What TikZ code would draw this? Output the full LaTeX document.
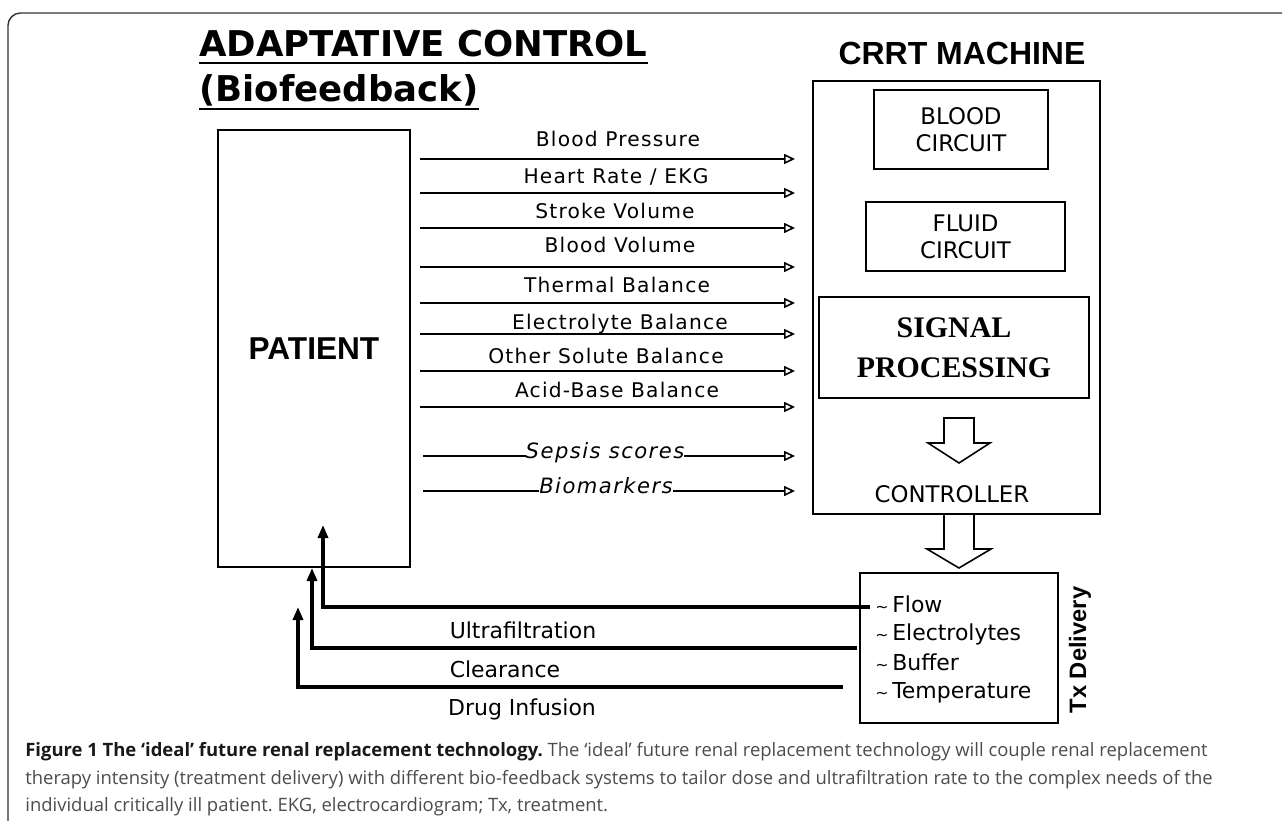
\documentclass[tikz,border=0pt]{standalone}
\usepackage{fontspec}
\setmainfont{DejaVu Sans}
\newfontfamily\lblfont[LetterSpace=6]{DejaVu Sans}
\newfontfamily\itlfont[LetterSpace=7]{DejaVu Sans}
\newfontfamily\headfont{DejaVu Sans}
\newfontfamily\boxfont{Liberation Sans}
\newfontfamily\sigfont{Liberation Serif}
\newfontfamily\capfont{Open Sans}
\usetikzlibrary{arrows.meta}
\frenchspacing

\begin{document}
\begin{tikzpicture}[x=0.02cm,y=-0.02cm]
\tikzset{
  box/.style={draw, line width=1pt, align=center, inner sep=0pt},
  txt/.style={font=\fontsize{13}{15.3}\selectfont},
  lbl/.style={anchor=base, inner sep=0pt, font=\lblfont\fontsize{11.5}{13}\selectfont},
  itl/.style={anchor=base, inner sep=0pt, fill=white, font=\itlfont\itshape\fontsize{12}{14}\selectfont},
  item/.style={anchor=base west, inner sep=0pt, font=\fontsize{12.5}{15}\selectfont},
  fbl/.style={anchor=base, inner sep=0pt, font=\fontsize{12.5}{15}\selectfont},
  sig/.style={line width=0.9pt, -{Triangle[open, length=0.22cm, width=0.2cm]}},
  fb/.style={line width=1.8pt, -{Triangle[length=0.26cm, width=0.2cm]}},
  blk/.style={draw, line width=0.9pt, fill=white},
  captext/.style={anchor=base west, inner sep=0pt, font=\capfont\fontsize{10.5}{15.6}\selectfont}
}
\useasboundingbox (0,0) rectangle (1282,821);
\draw[line width=0.8pt, black!80, rounded corners=0.25cm] (8,821) -- (8,13) -- (1282,13);

\node[anchor=base west, inner sep=0pt, font=\headfont\bfseries\fontsize{20.2}{24}\selectfont] (ttl1) at (199,57) {ADAPTATIVE CONTROL};
\node[anchor=base west, inner sep=0pt, font=\headfont\bfseries\fontsize{20.2}{24}\selectfont] (ttl2) at (199,102) {(Biofeedback)};
\draw[line width=1.1pt] ([yshift=-3.4pt]ttl1.base west) -- ([yshift=-3.4pt]ttl1.base east);
\draw[line width=1.1pt] ([yshift=-4pt]ttl2.base west) -- ([yshift=-4pt]ttl2.base east);
\node[anchor=base, inner sep=0pt, font=\boxfont\bfseries\fontsize{18.2}{22}\selectfont] (crrtttl) at (962,65) {CRRT MACHINE};

\node[box, minimum width=3.84cm, minimum height=8.74cm, font=\boxfont\bfseries\fontsize{18}{20}\selectfont] (patient) at (314,348.5) {PATIENT};
\node[box, minimum width=5.74cm, minimum height=8.66cm] (crrt) at (956.5,297.5) {};
\node[box, txt, minimum width=3.48cm, minimum height=1.58cm] (blood) at (961,129.5) {BLOOD\\CIRCUIT};
\node[box, txt, minimum width=3.98cm, minimum height=1.38cm] (fluid) at (965.5,236.5) {FLUID\\CIRCUIT};
\node[box, minimum width=5.4cm, minimum height=2.02cm, font=\sigfont\bfseries\fontsize{17}{22.7}\selectfont] (signal) at (954,347.5) {SIGNAL\\PROCESSING};
\node[anchor=base, inner sep=0pt, txt] (ctrl) at (952,502) {CONTROLLER};
\node[box, minimum width=3.96cm, minimum height=3cm] (tx) at (959,648) {};
\node[rotate=90, inner sep=0pt, font=\boxfont\bfseries\fontsize{13.5}{16}\selectfont] (txd) at (1080,650) {Tx Delivery};

\draw[blk] (944,418) -- (974,418) -- (974,443) -- (990,443) -- (959,463) -- (928,443) -- (944,443) -- cycle;
\draw[blk] (944,514) -- (974,514) -- (974,549) -- (991,549) -- (959,568) -- (927,549) -- (944,549) -- cycle;

\foreach \y/\ly/\lx/\t [count=\i] in {159/147/618/Blood Pressure, 193/184/616/{Heart Rate / EKG}, 228/218/615/Stroke Volume, 267/253/620/Blood Volume, 303/292/617/Thermal Balance, 334/329/620/Electrolyte Balance, 371/363/606/Other Solute Balance, 407/397/617/Acid-Base Balance}{
  \coordinate (a\i) at (420,\y);
  \coordinate (b\i) at (795,\y);
  \draw[sig] (a\i) -- (b\i);
  \node[lbl] (m\i) at (\lx,\ly) {\t};
}
\coordinate (a9) at (423,456);
\coordinate (b9) at (795,456);
\draw[sig] (a9) -- (b9);
\node[itl] (sepsis) at (605,458) {Sepsis scores};
\coordinate (a10) at (423,491);
\coordinate (b10) at (795,491);
\draw[sig] (a10) -- (b10);
\node[itl] (bio) at (606,493) {Biomarkers};

\node[item] (flow) at (875,612) {{\small\textasciitilde}\,Flow};
\node[item] (elec) at (875,640) {{\small\textasciitilde}\,Electrolytes};
\node[item] (buff) at (875,670) {{\small\textasciitilde}\,Buffer};
\node[item] (temp) at (875,698) {{\small\textasciitilde}\,Temperature};

\coordinate (f1) at (870,607);
\coordinate (f2) at (857,648);
\coordinate (f3) at (843,687);
\coordinate (p1) at (323,525);
\coordinate (p2) at (312,568);
\coordinate (p3) at (298,607);
\draw[fb] (f1) -| (p1);
\draw[fb] (f2) -| (p2);
\draw[fb] (f3) -| (p3);
\node[fbl] (uf) at (523,638) {Ultrafiltration};
\node[fbl] (cl) at (505,677) {Clearance};
\node[fbl] (drug) at (522,715) {Drug Infusion};

\node[captext] (cap1) at (25,756) {\textcolor{black!90}{\bfseries Figure 1 The ‘ideal’ future renal replacement technology.} \textcolor{black!70}{The ‘ideal’ future renal replacement technology will couple renal replacement}};
\node[captext, text=black!70] (cap2) at (25,784) {therapy intensity (treatment delivery) with different bio-feedback systems to tailor dose and ultrafiltration rate to the complex needs of the};
\node[captext, text=black!70] (cap3) at (25,811) {individual critically ill patient. EKG, electrocardiogram; Tx, treatment.};
\end{tikzpicture}
\end{document}
